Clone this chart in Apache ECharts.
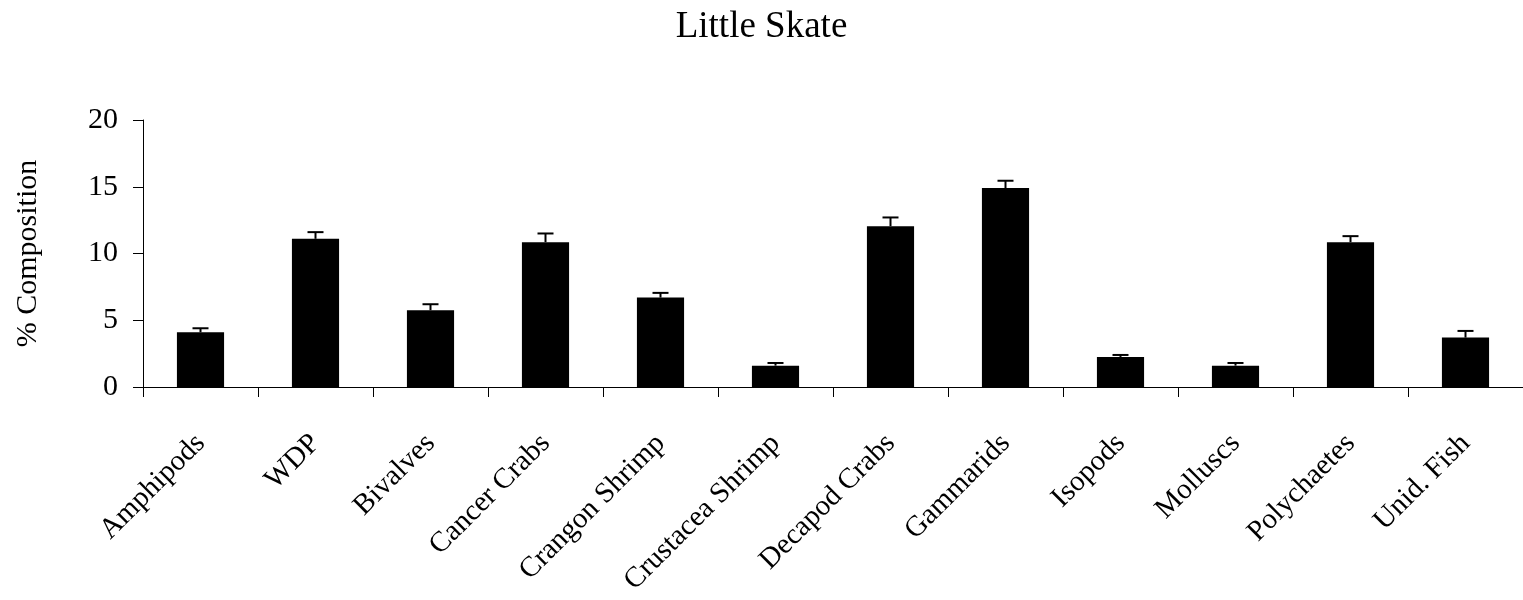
<!DOCTYPE html>
<html>
<head>
<meta charset="utf-8">
<title>Little Skate</title>
<script src="https://cdn.jsdelivr.net/npm/echarts@6/dist/echarts.min.js"></script>
<style>
  html, body { margin: 0; padding: 0; background: #fff; }
  #chart { width: 1523px; height: 600px; }
</style>
</head>
<body>
<div id="chart"></div>
<script>
// Prey categories in the diet of the little skate
const categories = [
  'Amphipods', 'WDP', 'Bivalves', 'Cancer Crabs', 'Crangon Shrimp',
  'Crustacea Shrimp', 'Decapod Crabs', 'Gammarids', 'Isopods',
  'Molluscs', 'Polychaetes', 'Unid. Fish'
];
// Mean percent composition per category
const composition = [4.1, 11.1, 5.75, 10.85, 6.7, 1.6, 12.05, 14.9, 2.25, 1.6, 10.85, 3.7];
// Standard error (drawn above each bar)
const stdError = [0.3, 0.5, 0.45, 0.65, 0.35, 0.2, 0.65, 0.55, 0.15, 0.2, 0.45, 0.5];
// Value axis ticks
const yTicks = { min: 0, max: 20, interval: 5 };

const FONT = '"Liberation Serif", "Times New Roman", serif';

const chart = echarts.init(document.getElementById('chart'), null, { renderer: 'canvas' });

const errorData = categories.map((c, i) => [i, composition[i], composition[i] + stdError[i]]);

chart.setOption({
  animation: false,
  backgroundColor: '#ffffff',
  title: {
    text: 'Little Skate',
    left: 'center',
    top: 4,
    textStyle: { fontFamily: FONT, fontSize: 37, fontWeight: 'normal', color: '#000' }
  },
  grid: { left: 143, right: -1, top: 120, bottom: 213, containLabel: false },
  xAxis: {
    type: 'category',
    data: categories,
    boundaryGap: true,
    axisLine: { lineStyle: { color: '#000', width: 1 } },
    axisTick: { show: true, inside: false, length: 10, lineStyle: { color: '#000' } },
    axisLabel: {
      interval: 0,
      rotate: 45,
      margin: 52,
      fontFamily: FONT,
      fontSize: 29,
      color: '#000'
    },
    splitLine: { show: false }
  },
  yAxis: {
    type: 'value',
    min: yTicks.min,
    max: yTicks.max,
    interval: yTicks.interval,
    name: '% Composition',
    nameLocation: 'middle',
    nameRotate: 90,
    nameGap: 100,
    nameTextStyle: { fontFamily: FONT, fontSize: 30, color: '#000' },
    axisLine: { show: true, lineStyle: { color: '#000', width: 1 } },
    axisTick: { show: true, inside: false, length: 10, lineStyle: { color: '#000' } },
    axisLabel: { margin: 25, fontFamily: FONT, fontSize: 30, color: '#000' },
    splitLine: { show: false }
  },
  series: [
    {
      type: 'bar',
      data: composition,
      barWidth: '41%',
      itemStyle: { color: '#000' },
      z: 2
    },
    {
      type: 'custom',
      z: 3,
      data: errorData,
      renderItem: function (params, api) {
        const idx = api.value(0);
        const low = api.coord([idx, api.value(1)]);
        const high = api.coord([idx, api.value(2)]);
        const half = 8;
        const style = { stroke: '#000', lineWidth: 2, fill: null };
        return {
          type: 'group',
          children: [
            { type: 'line', shape: { x1: low[0], y1: low[1], x2: high[0], y2: high[1] }, style: style },
            { type: 'line', shape: { x1: high[0] - half, y1: high[1], x2: high[0] + half, y2: high[1] }, style: style }
          ]
        };
      }
    }
  ]
});
</script>
</body>
</html>
